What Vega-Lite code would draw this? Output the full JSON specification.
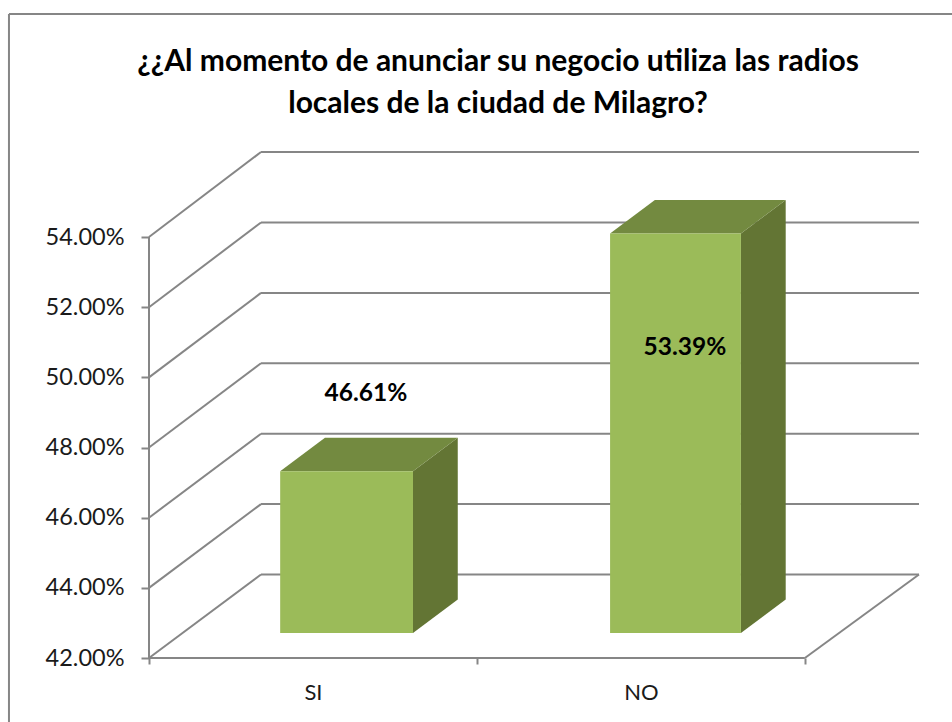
{"$schema":"https://vega.github.io/schema/vega-lite/v6.json","width":770,"height":506,"autosize":{"type":"none"},"padding":{"left":149,"top":152,"right":33,"bottom":64},"background":"white",
"title":{"text":["¿¿Al momento de anunciar su negocio utiliza las radios","locales de la ciudad de Milagro?"],"font":"Lato","fontSize":30,"fontWeight":"bold","color":"#000000","lineHeight":42,"anchor":"middle","dx":-36,"offset":-106.5},
"config":{"view":{"stroke":null},"axis":{"title":null,"grid":false,"domain":false}},
"datasets":{"bars":[{"cat":"SI","value":46.61},{"cat":"NO","value":53.39}],"ticks":[{"tick":42},{"tick":44},{"tick":46},{"tick":48},{"tick":50},{"tick":52},{"tick":54}],"one":[{"n":1}]},
"layer":[
{"mark":{"type":"rule","color":"#868686","strokeWidth":2,"clip":false},"data":{"name":"ticks"},"transform":[{"calculate":"0","as":"x0"},{"calculate":"0.3415","as":"x1"},{"calculate":"datum.tick+2.38+(datum.tick-42)*0.0035","as":"y1"}],
"encoding":{"x":{"field":"x0","type":"quantitative","scale":{"domain":[0,2.348],"zero":false,"nice":false},
"axis":{"values":[0,0.5,1,1.5,2],"labelExpr":"datum.value==0.5?'SI':datum.value==1.5?'NO':''","tickSize":6,"tickColor":"#868686","tickWidth":2,"tickOpacity":{"condition":{"test":"datum.value==0.5||datum.value==1.5","value":0},"value":1},"labelFont":"Lato","labelFontSize":22,"labelColor":"#1a1a1a","labelPadding":18,"labelAngle":0,"labelFlush":false,"labelOverlap":false}},
"x2":{"field":"x1"},
"y":{"field":"tick","type":"quantitative","scale":{"domain":[42,56.424],"zero":false,"nice":false},
"axis":{"values":[42,44,46,48,50,52,54],"labelExpr":"format(datum.value,'.2f')+'%'","tickSize":8,"tickColor":"#868686","tickWidth":2,"labelFont":"Lato","labelFontSize":23.5,"labelColor":"#1a1a1a","labelPadding":17}},
"y2":{"field":"y1"}}},
{"mark":{"type":"rule","color":"#868686","strokeWidth":2,"clip":false},"data":{"name":"ticks"},"transform":[{"calculate":"0.3415","as":"x0"},{"calculate":"2.348","as":"x1"},{"calculate":"datum.tick+2.38+(datum.tick-42)*0.0035","as":"y1"}],
"encoding":{"x":{"field":"x0","type":"quantitative"},"x2":{"field":"x1"},"y":{"field":"y1","type":"quantitative"}}},
{"mark":{"type":"rule","color":"#868686","strokeWidth":2},"data":{"name":"one"},"encoding":{"x":{"datum":0,"type":"quantitative"},"y":{"datum":42,"type":"quantitative"},"y2":{"datum":54}}},
{"mark":{"type":"rule","color":"#868686","strokeWidth":2},"data":{"name":"one"},"encoding":{"x":{"datum":0,"type":"quantitative"},"x2":{"datum":2},"y":{"datum":42,"type":"quantitative"}}},
{"mark":{"type":"rule","color":"#868686","strokeWidth":2},"data":{"name":"one"},"encoding":{"x":{"datum":2,"type":"quantitative"},"x2":{"datum":2.348},"y":{"datum":42,"type":"quantitative"},"y2":{"datum":44.38}}},
{"mark":{"type":"rule","color":"#868686","strokeWidth":2,"clip":false},"data":{"name":"one"},"encoding":{"x":{"datum":-0.427,"type":"quantitative"},"y":{"datum":60.36,"type":"quantitative"},"y2":{"datum":40}}},
{"mark":{"type":"rule","color":"#868686","strokeWidth":2,"clip":false},"data":{"name":"one"},"encoding":{"x":{"datum":-0.427,"type":"quantitative"},"x2":{"datum":2.5},"y":{"datum":60.36,"type":"quantitative"}}},
{"mark":{"type":"area","color":"#637534","orient":"vertical"},"data":{"name":"bars"},"transform":[{"calculate":"[0.3,0.7]","as":"d"},{"flatten":["d"]},{"calculate":"(datum.cat=='SI'?0.5:1.5)+0.2025+datum.d*0.3415","as":"px"},{"calculate":"datum.value+datum.d*2.38","as":"top"},{"calculate":"42+datum.d*2.38","as":"base"}],
"encoding":{"x":{"field":"px","type":"quantitative"},"y":{"field":"top","type":"quantitative"},"y2":{"field":"base"},"detail":{"field":"cat"}}},
{"mark":{"type":"area","color":"#738A40","orient":"horizontal"},"data":{"name":"bars"},"transform":[{"calculate":"[0.3,0.7]","as":"d"},{"flatten":["d"]},{"calculate":"(datum.cat=='SI'?0.5:1.506)-0.2025+datum.d*0.3415","as":"l"},{"calculate":"(datum.cat=='SI'?0.5:1.5)+0.2025+datum.d*0.3415","as":"r"},{"calculate":"datum.value+datum.d*2.38","as":"top"}],
"encoding":{"y":{"field":"top","type":"quantitative"},"x":{"field":"l","type":"quantitative"},"x2":{"field":"r"},"detail":{"field":"cat"}}},
{"mark":{"type":"rect","color":"#9BBB59"},"data":{"name":"bars"},"transform":[{"calculate":"(datum.cat=='SI'?0.5:1.506)-0.2025+0.1025","as":"l"},{"calculate":"(datum.cat=='SI'?0.5:1.5)+0.2025+0.1025","as":"r"},{"calculate":"datum.value+0.714","as":"top"},{"calculate":"42.714","as":"base"}],
"encoding":{"x":{"field":"l","type":"quantitative"},"x2":{"field":"r"},"y":{"field":"top","type":"quantitative"},"y2":{"field":"base"}}},
{"mark":{"type":"text","font":"Lato","fontSize":24.5,"fontWeight":"bold","color":"#000000","align":"center","baseline":"middle"},"data":{"name":"bars"},"transform":[{"calculate":"datum.cat=='SI'?0.6616:1.634","as":"px"},{"calculate":"datum.cat=='SI'?49.53:50.85","as":"py"},{"calculate":"format(datum.value,'.2f')+'%'","as":"label"}],
"encoding":{"x":{"field":"px","type":"quantitative"},"y":{"field":"py","type":"quantitative"},"text":{"field":"label","type":"nominal"}}}
]}
